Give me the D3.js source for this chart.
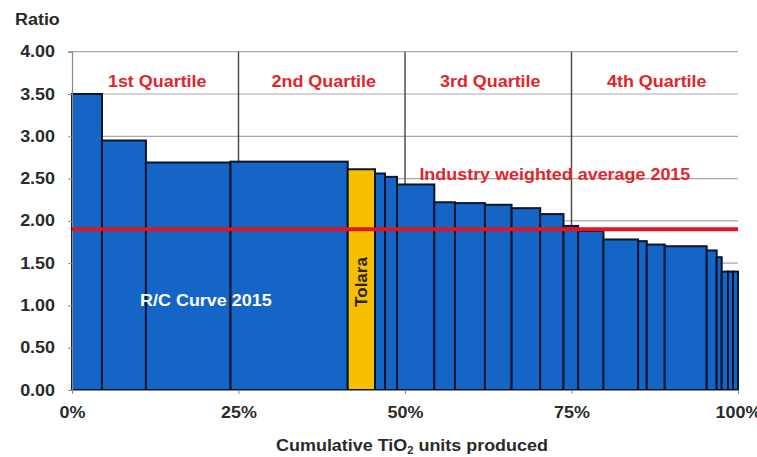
<!DOCTYPE html>
<html>
<head>
<meta charset="utf-8">
<script src="https://cdn.jsdelivr.net/npm/d3@7/dist/d3.min.js"></script>
<style>
  html, body { margin: 0; padding: 0; background: #fff; }
  svg { display: block; font-family: "Liberation Sans", Arial, sans-serif; }
</style>
</head>
<body>
<svg id="chart" width="757" height="457"></svg>
<script>
// Producers ordered by revenue/cost ratio: share of cumulative TiO2 units (%) and ratio
const producers = ["A","B","C","D","Tolara","F","G","H","I","J","K","L","M","N","O","P","Q","R","S","T","U","V","W","X"];
const shares = [4.5, 6.6, 12.7, 17.6, 4.1, 1.5, 1.8, 5.6, 3.1, 4.5, 4.0, 4.3, 3.5, 2.2, 3.8, 5.2, 1.3, 2.7, 6.3, 1.5, 0.75, 0.95, 0.75, 0.75];
const ratios = [3.50, 2.95, 2.69, 2.70, 2.61, 2.56, 2.52, 2.43, 2.22, 2.21, 2.19, 2.15, 2.08, 1.94, 1.88, 1.78, 1.76, 1.72, 1.70, 1.65, 1.57, 1.40, 1.40, 1.40];
const highlighted = "Tolara";
const industryAverage = 1.90;

const yTicks = [0, 0.5, 1, 1.5, 2, 2.5, 3, 3.5, 4];
const xTicks = [0, 25, 50, 75, 100];
const quartileLabels = ["1st Quartile", "2nd Quartile", "3rd Quartile", "4th Quartile"];

const svg = d3.select("#chart");
const x = d3.scaleLinear().domain([0, 100]).range([72, 738]);
const y = d3.scaleLinear().domain([0, 4]).range([390, 51.7]);

const BLUE = "#1565c6", EDGE = "#0a1530", GOLD = "#f6bf00", RED = "#e4141c", LABEL_RED = "#e0262b", INK = "#2a2a2a";

// widen glyphs slightly, matching the wide bold face of the original slide
function stretch(sel, k = 1.12) {
  sel.each(function () {
    const len = this.getComputedTextLength();
    d3.select(this).attr("textLength", len * k).attr("lengthAdjust", "spacingAndGlyphs");
  });
}

// horizontal gridlines
svg.append("g").selectAll("line").data(yTicks.filter(d => d > 0)).join("line")
  .attr("x1", x(0)).attr("x2", x(100))
  .attr("y1", d => y(d)).attr("y2", d => y(d))
  .attr("stroke", "#a9a9a9").attr("stroke-width", 1.2);

// quartile dividers
svg.append("g").selectAll("line").data([25, 50, 75]).join("line")
  .attr("x1", d => x(d)).attr("x2", d => x(d))
  .attr("y1", y(4)).attr("y2", y(0))
  .attr("stroke", "#454545").attr("stroke-width", 1.4);

// bars: width = share of units, height = ratio
const ends = d3.cumsum(shares);
const bars = producers.map((p, i) => ({ name: p, x0: ends[i] - shares[i], x1: ends[i], v: ratios[i] }));
svg.append("g").selectAll("rect").data(bars).join("rect")
  .attr("x", d => x(d.x0)).attr("width", d => x(d.x1) - x(d.x0))
  .attr("y", d => y(d.v)).attr("height", d => y(0) - y(d.v))
  .attr("fill", d => d.name === highlighted ? GOLD : BLUE)
  .attr("stroke", EDGE).attr("stroke-width", 2);

// y axis
const yAxis = svg.append("g").attr("transform", `translate(${x(0)},0)`)
  .call(d3.axisLeft(y).tickValues(yTicks).tickFormat(d3.format(".2f")).tickSize(4).tickPadding(13));
yAxis.select(".domain").attr("stroke", "#8a8a8a").attr("stroke-width", 1.2);
yAxis.selectAll(".tick line").attr("stroke", "#8a8a8a");
yAxis.selectAll("text").attr("font-size", 16).attr("font-weight", "bold").attr("fill", INK)
  .attr("font-family", "'Liberation Sans', Arial, sans-serif").call(stretch);

// x axis
const xAxis = svg.append("g").attr("transform", `translate(0,${y(0)})`)
  .call(d3.axisBottom(x).tickValues(xTicks).tickFormat(d => d + "%").tickSize(4).tickPadding(13));
xAxis.select(".domain").attr("stroke", "#8a8a8a");
xAxis.selectAll(".tick line").attr("stroke", "#8a8a8a");
xAxis.selectAll("text").attr("font-size", 16).attr("font-weight", "bold").attr("fill", INK)
  .attr("font-family", "'Liberation Sans', Arial, sans-serif").call(stretch);

// industry weighted average line
svg.append("line")
  .attr("x1", x(0)).attr("x2", x(100))
  .attr("y1", y(industryAverage)).attr("y2", y(industryAverage))
  .attr("stroke", RED).attr("stroke-width", 4);

// quartile labels
svg.append("g").selectAll("text").data(quartileLabels).join("text")
  .attr("x", (d, i) => x(12.5 + 25 * i) + 2).attr("y", 86.5)
  .attr("text-anchor", "middle").attr("font-size", 16).attr("font-weight", "bold")
  .attr("fill", LABEL_RED).text(d => d).call(stretch);

svg.append("text")
  .attr("x", x(72.5)).attr("y", 180)
  .attr("text-anchor", "middle").attr("font-size", 16).attr("font-weight", "bold")
  .attr("fill", LABEL_RED).text("Industry weighted average 2015").call(stretch);

svg.append("text")
  .attr("x", x(20.1)).attr("y", 306)
  .attr("text-anchor", "middle").attr("font-size", 16).attr("font-weight", "bold")
  .attr("fill", "#ffffff").text("R/C Curve 2015").call(stretch);

// label inside the highlighted bar
const hb = bars.find(d => d.name === highlighted);
svg.append("text")
  .attr("transform", `translate(${x((hb.x0 + hb.x1) / 2)},282) rotate(-90)`)
  .attr("text-anchor", "middle").attr("dominant-baseline", "central")
  .attr("font-size", 17).attr("font-weight", "bold").attr("fill", "#2b2410")
  .text(hb.name);

// axis titles
svg.append("text").attr("x", 15).attr("y", 25)
  .attr("font-size", 16).attr("font-weight", "bold").attr("fill", INK)
  .text("Ratio").call(stretch);

const xt = svg.append("text").attr("x", 412).attr("y", 451)
  .attr("text-anchor", "middle").attr("font-size", 16).attr("font-weight", "bold").attr("fill", INK);
xt.append("tspan").text("Cumulative TiO");
xt.append("tspan").attr("font-size", 10).attr("dy", 3).text("2");
xt.append("tspan").attr("dy", -3).text(" units produced");
xt.call(stretch);
</script>
</body>
</html>
